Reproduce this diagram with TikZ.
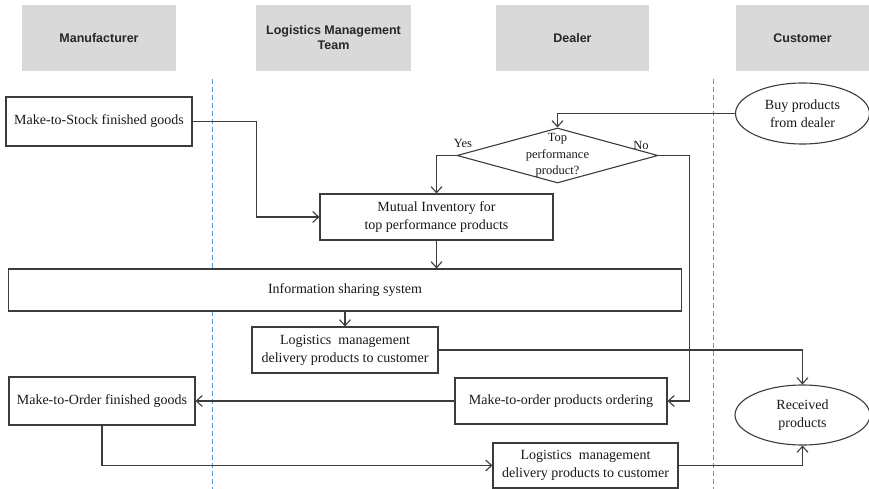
\documentclass[tikz,border=0pt]{standalone}
\usepackage{fontspec}
\setmainfont{Liberation Serif}
\newfontfamily\headfont{Liberation Sans}
\usetikzlibrary{shapes.geometric,arrows.meta}

\definecolor{headgray}{HTML}{D9D9D9}
\definecolor{lanecol}{HTML}{5B9BD5}
\definecolor{boxline}{HTML}{3C3C3C}

\begin{document}
\begin{tikzpicture}[x=1pt,y=-1pt,
    lane head/.style={fill=headgray,minimum height=66pt,align=center,text=black!85,
      font=\headfont\bfseries\fontsize{12.5}{15}\selectfont},
    lane line/.style={lanecol,dash pattern=on 5pt off 3pt,line width=1pt},
    proc/.style={draw=boxline,line width=1.1pt,fill=white,align=center,inner sep=0pt,
      text=black!90,font=\fontsize{14}{18}\selectfont},
    term/.style={proc,ellipse},
    flow/.style={draw=boxline,line width=1.1pt,-{Straight Barb[length=6pt,width=11pt]}}]
    \useasboundingbox (0,0) rectangle (869,489);

    % swimlane headers and separators
    \foreach \cx/\hw/\txt [count=\i] in {99/154/Manufacturer, 333.5/155/{Logistics Management\\Team},
                                         572.5/153/Dealer, 802.5/134/Customer} {
      \node[lane head,minimum width=\hw] (hd\i) at (\cx,38) {\txt};
    }
    \foreach \lx in {212,713} {
      \draw[lane line] (\lx,79) -- (\lx,489);
    }

    % process boxes
    \node[proc,minimum width=186,minimum height=49] (mts) at (99,121.5) {Make-to-Stock finished goods};
    \node[proc,minimum width=233,minimum height=46] (mutual) at (436.5,217) {Mutual Inventory for\\top performance products};
    \node[proc,diamond,minimum width=201,minimum height=55,
      label={[align=center,text=black!90,font=\fontsize{12.5}{16.5}\selectfont]center:{Top\\performance\\product?}}]
      (dec) at (557.5,155.5) {};
    \node[term,minimum width=134,minimum height=61] (buy) at (802.5,113.5) {Buy products\\from dealer};
    \node[proc,minimum width=673,minimum height=42] (info) at (345,290) {Information sharing system};
    \node[proc,minimum width=186,minimum height=46] (ld1) at (345,350) {Logistics\ \ management\\delivery products to customer};
    \node[proc,minimum width=212,minimum height=46] (mto) at (561,401) {Make-to-order products ordering};
    \node[proc,minimum width=186,minimum height=48] (mtog) at (102,401) {Make-to-Order finished goods};
    \node[proc,minimum width=185,minimum height=45] (ld2) at (585.5,465.5) {Logistics\ \ management\\delivery products to customer};
    \node[term,minimum width=135,minimum height=60] (rec) at (802.5,415) {Received\\products};

    \node[text=black!90,font=\fontsize{12.5}{15}\selectfont] (yes) at (463,143) {Yes};
    \node[text=black!90,font=\fontsize{12.5}{15}\selectfont] (no) at (641,145) {No};

    % connectors
    \draw[flow] (mts.east) -- ++(64,0) |- (mutual.west);
    \draw[flow] (buy.west) -| (dec.north);
    \draw[flow] (dec.west) -| (mutual.north);
    \draw[flow] (dec.east) -- ++(31,0) |- (mto.east);
    \draw[flow] (mutual.south) -- (mutual.south |- info.north);
    \draw[flow] (info.south) -- (ld1.north);
    \draw[flow] (ld1.east) -| (rec.north);
    \draw[flow] (mto.west) -- (mtog.east);
    \draw[flow] (mtog.south) |- (ld2.west);
    \draw[flow] (ld2.east) -| (rec.south);
\end{tikzpicture}
\end{document}
